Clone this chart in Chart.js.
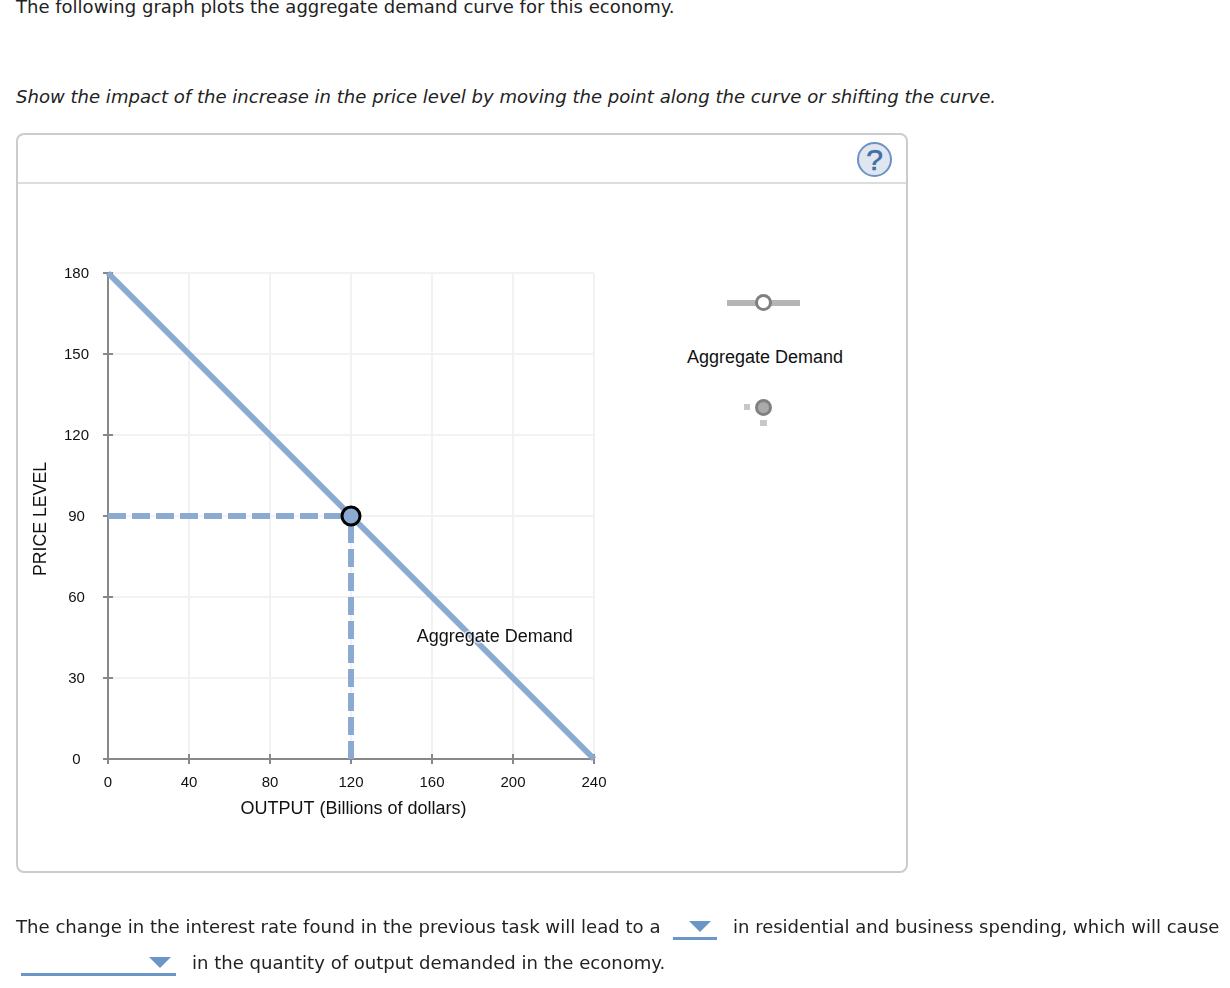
<!DOCTYPE html>
<html>
<head>
<meta charset="utf-8">
<title>Aggregate demand</title>
<script src="https://cdn.jsdelivr.net/npm/chart.js@4"></script>
<style>
  html, body { margin: 0; padding: 0; background: #fff; }
  body { width: 1230px; height: 988px; position: relative; overflow: hidden; }
  canvas { position: absolute; left: 0; top: 0; }
  .txt { position: absolute; white-space: nowrap; font-family: "DejaVu Sans", sans-serif; font-size: 18.07px; line-height: 22px; color: #222; }
  .panel { position: absolute; left: 16px; top: 133px; width: 888px; height: 736px; border: 2px solid #ccc; border-radius: 8px; }
  .head { position: absolute; left: 18px; top: 182px; width: 888px; height: 2px; background: #ddd; }
  .help { position: absolute; left: 857px; top: 142px; width: 31px; height: 31px; border: 2px solid #6c92c4; border-radius: 50%; background: #dfe6f0; color: #3f6fa6;
          font: 30px/31px "Liberation Sans", sans-serif; text-align: center; -webkit-text-stroke: 0.6px #3f6fa6; }
  .lbl { position: absolute; white-space: nowrap; font: 18px/22px "Liberation Sans", sans-serif; color: #111; }
  .bar { position: absolute; background: #b5b5b5; }
  .dot { position: absolute; width: 11px; height: 11px; border: 3px solid #808080; border-radius: 50%; }
  .under { position: absolute; height: 3px; background: #6b96c8; }
  .tri { position: absolute; width: 0; height: 0; border-left: 11px solid transparent; border-right: 11px solid transparent; border-top: 11px solid #6b96c8; }
</style>
</head>
<body>
<div class="txt" style="left:16px;top:-4px;font-size:18.03px">The following graph plots the aggregate demand curve for this economy.</div>
<div class="txt" style="left:16px;top:86px;font-style:italic">Show the impact of the increase in the price level by moving the point along the curve or shifting the curve.</div>

<div class="panel"></div>
<div class="head"></div>
<div class="help">?</div>

<div class="bar" style="left:727px;top:300px;width:73px;height:6px"></div>
<div class="dot" style="left:755px;top:294px;background:#fff"></div>
<div class="lbl" style="left:687px;top:346px">Aggregate Demand</div>
<div class="bar" style="left:744px;top:404px;width:6px;height:6px;background:#c8c8c8"></div>
<div class="bar" style="left:760px;top:420px;width:7px;height:6px;background:#c8c8c8"></div>
<div class="dot" style="left:755px;top:399px;background:#aaa"></div>

<canvas id="myChart" width="1230" height="988"></canvas>

<div class="txt" style="left:16px;top:916px;font-size:18.1px">The change in the interest rate found in the previous task will lead to a</div>
<div class="under" style="left:673px;top:937px;width:44px"></div>
<div class="tri" style="left:689px;top:921px"></div>
<div class="txt" style="left:733px;top:916px;font-size:18px">in residential and business spending, which will cause</div>
<div class="under" style="left:21px;top:973px;width:155px"></div>
<div class="tri" style="left:149px;top:957px"></div>
<div class="txt" style="left:192px;top:952px">in the quantity of output demanded in the economy.</div>

<script>
const xTicks = [0, 40, 80, 120, 160, 200, 240];
const yTicks = [0, 30, 60, 90, 120, 150, 180];

const demandX = [0, 240];
const demandY = [180, 0];
const guideHorizX = [0, 120];
const guideHorizY = [90, 90];
const guideVertX = [120, 120];
const guideVertY = [0, 90];
const pointX = [120];
const pointY = [90];

const curveLabel = "Aggregate Demand";
const curveLabelAt = [191, 45];
const xTitle = "OUTPUT (Billions of dollars)";
const yTitle = "PRICE LEVEL";

const BLUE = "#8aaad1";
const TEXT = "#111";

function pairs(xs, ys) {
  return xs.map((x, i) => ({ x: x, y: ys[i] }));
}

// ticks cross the axis line, chart.js only draws the outer half
const crossTicks = {
  id: "crossTicks",
  beforeDatasetsDraw(chart) {
    const ctx = chart.ctx, xs = chart.scales.x, ys = chart.scales.y;
    ctx.save();
    ctx.strokeStyle = "#888";
    ctx.lineWidth = 2;
    ctx.beginPath();
    xTicks.forEach(v => {
      const p = xs.getPixelForValue(v);
      ctx.moveTo(p, ys.bottom - 5);
      ctx.lineTo(p, ys.bottom + 5);
    });
    yTicks.forEach(v => {
      const p = ys.getPixelForValue(v);
      ctx.moveTo(xs.left - 5, p);
      ctx.lineTo(xs.left + 5, p);
    });
    ctx.stroke();
    ctx.restore();
  }
};

// curve label plus the axis titles, which sit a little off centre in the original
const chartText = {
  id: "chartText",
  afterDatasetsDraw(chart) {
    const ctx = chart.ctx, xs = chart.scales.x, ys = chart.scales.y;
    const x = xs.getPixelForValue(curveLabelAt[0]);
    const y = ys.getPixelForValue(curveLabelAt[1]);
    ctx.save();
    ctx.font = '18px "Liberation Sans"';
    ctx.textAlign = "center";
    ctx.textBaseline = "middle";
    ctx.strokeStyle = "rgba(255,255,255,0.6)";
    ctx.lineWidth = 3;
    ctx.strokeText(curveLabel, x, y);
    ctx.fillStyle = TEXT;
    ctx.fillText(curveLabel, x, y);
    ctx.fillText(xTitle, (xs.left + xs.right) / 2 + 2.5, ys.bottom + 50);

    ctx.translate(41, (ys.top + ys.bottom) / 2 + 3);
    ctx.rotate(-Math.PI / 2);
    ctx.font = '17.7px "Liberation Sans"';
    ctx.fillText(yTitle, 0, 0);
    ctx.restore();
  }
};

new Chart(document.getElementById("myChart"), {
  type: "scatter",
  plugins: [crossTicks, chartText],
  data: {
    datasets: [
      { data: pairs(pointX, pointY), order: 0, showLine: false, pointRadius: 9, pointBorderWidth: 3, pointBorderColor: "#000", pointBackgroundColor: BLUE, clip: false },
      { data: pairs(demandX, demandY), order: 1, showLine: true, borderColor: BLUE, borderWidth: 6, pointRadius: 0, clip: false },
      { data: pairs(guideHorizX, guideHorizY), order: 2, showLine: true, borderColor: BLUE, borderWidth: 6, borderDash: [18, 6], pointRadius: 0, clip: false },
      { data: pairs(guideVertX, guideVertY), order: 3, showLine: true, borderColor: BLUE, borderWidth: 6, borderDash: [18, 6], pointRadius: 0, clip: false }
    ]
  },
  options: {
    responsive: false,
    animation: false,
    layout: { padding: { top: 273, right: 636 } },
    plugins: { legend: { display: false }, tooltip: { enabled: false } },
    scales: {
      x: {
        type: "linear",
        min: 0,
        max: 240,
        afterFit(scale) { scale.height = 229; },
        afterBuildTicks(scale) { scale.ticks = xTicks.map(v => ({ value: v })); },
        grid: { color: "#f2f2f2", lineWidth: 2, drawTicks: false },
        border: { color: "#888", width: 2 },
        ticks: { color: TEXT, font: { family: "Liberation Sans", size: 15 }, padding: 15, maxRotation: 0 }
      },
      y: {
        type: "linear",
        min: 0,
        max: 180,
        afterFit(scale) { scale.width = 108; },
        afterBuildTicks(scale) { scale.ticks = yTicks.map(v => ({ value: v })); },
        grid: { color: "#f2f2f2", lineWidth: 2, drawTicks: false },
        border: { color: "#888", width: 2 },
        ticks: { color: TEXT, font: { family: "Liberation Sans", size: 15 }, padding: 19, crossAlign: "center", labelOffset: 1 }
      }
    }
  }
});
</script>
</body>
</html>
